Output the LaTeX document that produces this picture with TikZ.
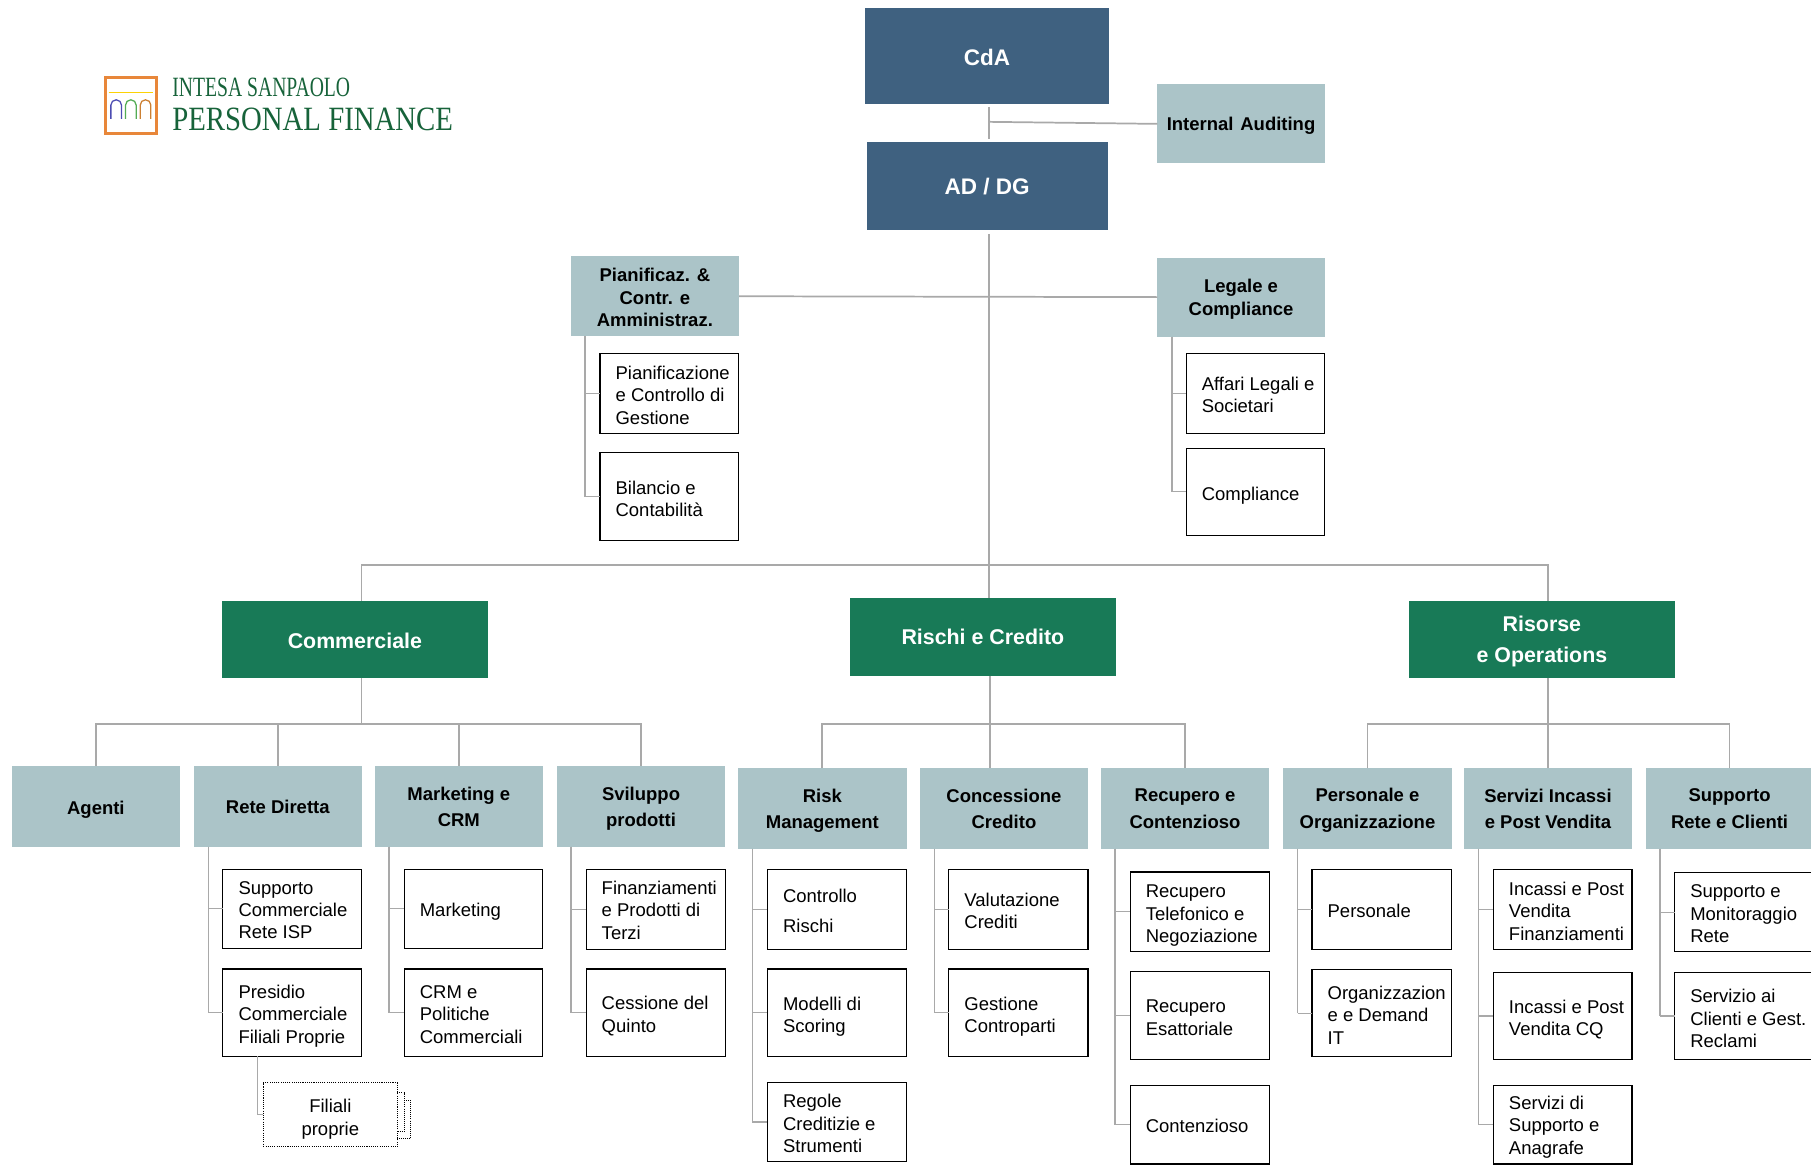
\documentclass[tikz,border=0pt]{standalone}
\usepackage{fontspec}
\usepackage{graphicx}
\setmainfont{Liberation Sans}
\definecolor{navy}{HTML}{3F6180}
\definecolor{tealbox}{HTML}{ABC4C8}
\definecolor{grn}{HTML}{187A57}
\definecolor{linegrey}{HTML}{A9A9A9}
\definecolor{logogreen}{HTML}{17633A}
\definecolor{logoorange}{HTML}{E8873A}
\tikzset{
  x=1pt,y=1pt,
  basebox/.style={inner sep=0pt,outer sep=0pt,align=center},
  topbox/.style={basebox,fill=navy,text=white,font=\fontsize{19.5}{24}\selectfont\bfseries},
  midbox/.style={basebox,fill=tealbox,text=black,font=\fontsize{16}{19.5}\selectfont\bfseries},
  greenbox/.style={basebox,fill=grn,text=white,font=\fontsize{18.5}{27}\selectfont\bfseries},
  leafbox/.style={inner sep=0pt,outer sep=0pt,align=left,font=\fontsize{16}{19.5}\selectfont},
  leafframe/.style={draw=black,line width=1pt,fill=white},
  dotbox/.style={basebox,draw=black,densely dotted,line width=0.9pt,fill=white,font=\fontsize{16}{20}\selectfont},
  conn/.style={draw=linegrey,line width=1.5pt},
  thinconn/.style={draw=linegrey,line width=1.1pt},
  dotline/.style={draw=black,densely dotted,line width=0.8pt},
}
% [dy] style, name, x0, y0, x1, y1, text
\newcommand{\bx}[8][1.5]{%
  \pgfmathsetmacro{\bw}{#6-#4}\pgfmathsetmacro{\bh}{#7-#5}%
  \pgfmathsetmacro{\bcx}{(#4+#6)/2}\pgfmathsetmacro{\bcy}{-(#5+#7)/2}%
  \node[#2,minimum width=\bw pt,minimum height=\bh pt] (#3) at (\bcx,\bcy) {};
  \node[#2,draw=none,fill=none] (#3t) at ([yshift=-#1 pt]#3.center) {#8};}
% [dy] name, x0, y0, x1, y1, text : white box with left-aligned, padded text
\newcommand{\lf}[7][2]{%
  \pgfmathsetmacro{\bw}{#5-#3}\pgfmathsetmacro{\bh}{#6-#4}%
  \pgfmathsetmacro{\bcx}{(#3+#5)/2}\pgfmathsetmacro{\bcy}{-(#4+#6)/2}%
  \node[leafframe,inner sep=0pt,outer sep=0pt,minimum width=\bw pt,minimum height=\bh pt] (#2) at (\bcx,\bcy) {};
  \node[leafbox,anchor=west] (#2t) at ([xshift=13.5pt,yshift=-#1 pt]#2.west) {#7};}
\begin{document}
\begin{tikzpicture}
\useasboundingbox (0,0) rectangle (1568,-1008.7);
\begin{scope}
\clip (0,0) rectangle (1568,-1008.7);
% logo
\draw[logoorange,line width=2.6pt,fill=white] (91,-67) rectangle (135.5,-115.5);
\draw[yellow!70!orange,line width=1pt] (94,-80) -- (132.5,-80);
\draw[blue!40!gray,line width=1.1pt] (96,-103) -- (96,-91) arc[start angle=180,end angle=0,radius=4.6] -- ++(0,-12);
\draw[green!35!gray,line width=1.1pt] (108.7,-103) -- (108.7,-91) arc[start angle=180,end angle=0,radius=4.6] -- ++(0,-12);
\draw[orange!60!gray,line width=1.1pt] (121.4,-103) -- (121.4,-91) arc[start angle=180,end angle=0,radius=4.6] -- ++(0,-12);
\node[anchor=west,inner sep=0pt,text=logogreen] (logoa) at (149,-76) {\resizebox{154pt}{16pt}{\fontspec{Liberation Serif}INTESA SANPAOLO}};
\node[anchor=west,inner sep=0pt,text=logogreen] (logob) at (149,-103) {\resizebox{243pt}{19.5pt}{\fontspec{Liberation Serif}PERSONAL FINANCE}};
% top
\bx[1.5]{topbox}{cda}{749}{7}{960}{90}{CdA}
\bx[0.5]{topbox}{ad}{750.5}{123}{959}{199.5}{AD / DG}
\bx[2]{midbox}{ia}{1002}{73}{1147}{141.5}{Internal\hspace{1.5pt} Auditing}
\bx[1]{midbox}{pian}{494}{222}{640}{291}{Pianificaz. \&\\Contr. e\\Amministraz.}
\bx[2]{midbox}{leg}{1002}{223}{1147}{291.5}{Legale e\\[0.5pt]Compliance}
\lf[1.5]{pc}{519.5}{306}{639.5}{375}{Pianificazione\\e Controllo di\\Gestione}
\lf[2]{bil}{519.5}{392}{639.5}{468}{Bilancio e\\[-0.5pt]Contabilità}
\lf[1]{aff}{1027}{306}{1147}{375}{Affari Legali e\\[-0.5pt]Societari}
\lf[3.5]{comp}{1027}{388}{1147}{463.5}{Compliance}
% green
\bx[1]{greenbox}{comm}{192}{520}{422.5}{587}{Commerciale}
\bx[0]{greenbox}{ris}{736}{518}{966}{585.5}{Rischi e Credito}
\bx[2]{greenbox}{op}{1220}{520}{1450}{587}{Risorse\\e Operations}
% row
\bx[3]{midbox}{ag}{10}{663}{156}{733}{Agenti}
\bx[1]{midbox}{rd}{168}{663}{313}{733}{Rete Diretta}
\bx[1]{midbox}{mk}{324.5}{663}{470}{733}{Marketing e\\[3pt]CRM}
\bx[2.5]{midbox}{sv}{482}{663}{628}{733}{Sviluppo\\[3pt]prodotti}
\bx[2]{midbox}{rk}{639}{665}{785}{735}{Risk\\[3.5pt]Management}
\bx[0.5]{midbox}{cc}{796.5}{665}{942}{735}{Concessione\\[3.5pt]Credito}
\bx[0.3]{midbox}{rc}{953}{665}{1099}{735}{Recupero e\\[3.5pt]Contenzioso}
\bx[1.7]{midbox}{pe}{1111}{665}{1257}{735}{Personale e\\[3.5pt]Organizzazione}
\bx[0.3]{midbox}{si}{1267.5}{665}{1413}{735}{Servizi Incassi\\[3.5pt]e Post Vendita}
\bx[0.3]{midbox}{su}{1425}{665}{1570}{735}{Supporto\\[3.5pt]Rete e Clienti}
% leaves
\lf[1.2]{rd1}{193}{752.5}{313}{821}{Supporto\\[-0.3pt]Commerciale\\[-0.3pt]Rete ISP}
\lf[3]{rd2}{193}{839}{313}{914.5}{Presidio\\Commerciale\\Filiali Proprie}
\lf[3]{mk1}{350}{752.5}{470}{821}{Marketing}
\lf[1.5]{mk2}{350}{839}{470}{914.5}{CRM e\\Politiche\\Commerciali}
\lf[0.8]{sv1}{507.5}{752.5}{628}{822}{Finanziamenti\\e Prodotti di\\Terzi}
\lf[3]{sv2}{507.5}{839}{628}{914.5}{Cessione del\\Quinto}
\lf[1]{rk1}{664.5}{753}{785}{822}{Controllo\\[6.5pt]Rischi}
\lf[3.5]{rk2}{664.5}{839}{785}{914.5}{Modelli di\\Scoring}
\lf[1.5]{rk3}{664.5}{937}{785}{1006}{Regole\\Creditizie e\\Strumenti}
\lf[1.5]{cc1}{821.5}{753}{942}{822}{Valutazione\\[-0.5pt]Crediti}
\lf[3.5]{cc2}{821.5}{839}{942}{914.5}{Gestione\\Controparti}
\lf[3.5]{rc1}{978.5}{755}{1099}{824}{Recupero\\Telefonico e\\Negoziazione}
\lf[2]{rc2}{978.5}{841.5}{1099}{917}{Recupero\\Esattoriale}
\lf[1.5]{rc3}{978.5}{939.5}{1099}{1007.8}{Contenzioso}
\lf[1]{pe1}{1136}{753}{1257}{822}{Personale}
\lf[1.5]{pe2}{1136}{839.5}{1257}{915}{Organizzazion\\e e Demand\\IT}
\lf[1.5]{si1}{1293}{753}{1413}{822}{Incassi e Post\\Vendita\\Finanziamenti}
\lf[3]{si2}{1293}{842}{1413}{917.5}{Incassi e Post\\Vendita CQ}
\lf[2]{si3}{1293}{940}{1413}{1007.8}{Servizi di\\Supporto e\\Anagrafe}
\lf[1.5]{su1}{1450}{755.5}{1575}{824}{Supporto e\\Monitoraggio\\Rete}
\lf[2]{su2}{1450}{842}{1575}{917.5}{Servizio ai\\Clienti e Gest.\\Reclami}
% dotted box
\draw[dotline] (344,-946) -- (350,-946) -- (350,-980) -- (344,-980);
\draw[dotline] (350,-952.4) -- (355.6,-952.4) -- (355.6,-986) -- (344,-986);
\bx[3.5]{dotbox}{fil}{228}{937.5}{344}{993}{Filiali\\proprie}
% bus coordinates
\coordinate (spine) at (856,-489);
\coordinate (busl) at (313,-489);
\coordinate (busr) at (1340,-489);
\coordinate (lowc) at (313,-627);
\coordinate (lowr) at (857,-627);
\coordinate (lowo) at (1340,-627);
\coordinate (iaj) at (857,-105.5);
% connectors
\draw[conn] ([yshift=-2.5]cda.south -| spine) -- ([yshift=2.5]ad.north -| spine);
\draw[conn] (iaj) -- (ia.west);
\draw[conn] ([yshift=-3]ad.south -| spine) -- (ris.north -| spine);
\draw[conn] (pian.east) -- (leg.west);
\draw[conn] (comm.north -| busl) -- (busl) -- (busr) -- (op.north -| busr);
% first-level children
\draw[conn] (comm.south -| lowc) -- (lowc);
\draw[conn] (ag.north) |- (lowc);
\draw[conn] (rd.north) |- (lowc);
\draw[conn] (mk.north) |- (lowc);
\draw[conn] (sv.north) |- (lowc);
\draw[conn] (ris.south -| lowr) -- (cc.north -| lowr);
\draw[conn] (rk.north) |- (lowr);
\draw[conn] (rc.north) |- (lowr);
\draw[conn] (op.south -| lowo) -- (si.north -| lowo);
\draw[conn] (pe.north) |- (lowo);
\draw[conn] (su.north) |- (lowo);
% leaf elbows
\foreach \p/\c in {pian/pc,pian/bil,leg/aff,leg/comp,rd/rd1,rd/rd2,mk/mk1,mk/mk2,sv/sv1,sv/sv2,rk/rk1,rk/rk2,rk/rk3,cc/cc1,cc/cc2,rc/rc1,rc/rc2,rc/rc3,pe/pe1,pe/pe2,si/si1,si/si2,si/si3,su/su1,su/su2}{
  \draw[conn] ([xshift=12.5]\p.south west) -- ([xshift=12.5]\p.south west |- \c.west);
  \draw[thinconn] ([xshift=12.5]\p.south west |- \c.west) -- (\c.west);
}
\draw[conn] ([xshift=30]rd2.south west) -- ([xshift=30]rd2.south west |- fil.west);
\draw[thinconn] ([xshift=30]rd2.south west |- fil.west) -- (fil.west);
\end{scope}
\end{tikzpicture}
\end{document}
